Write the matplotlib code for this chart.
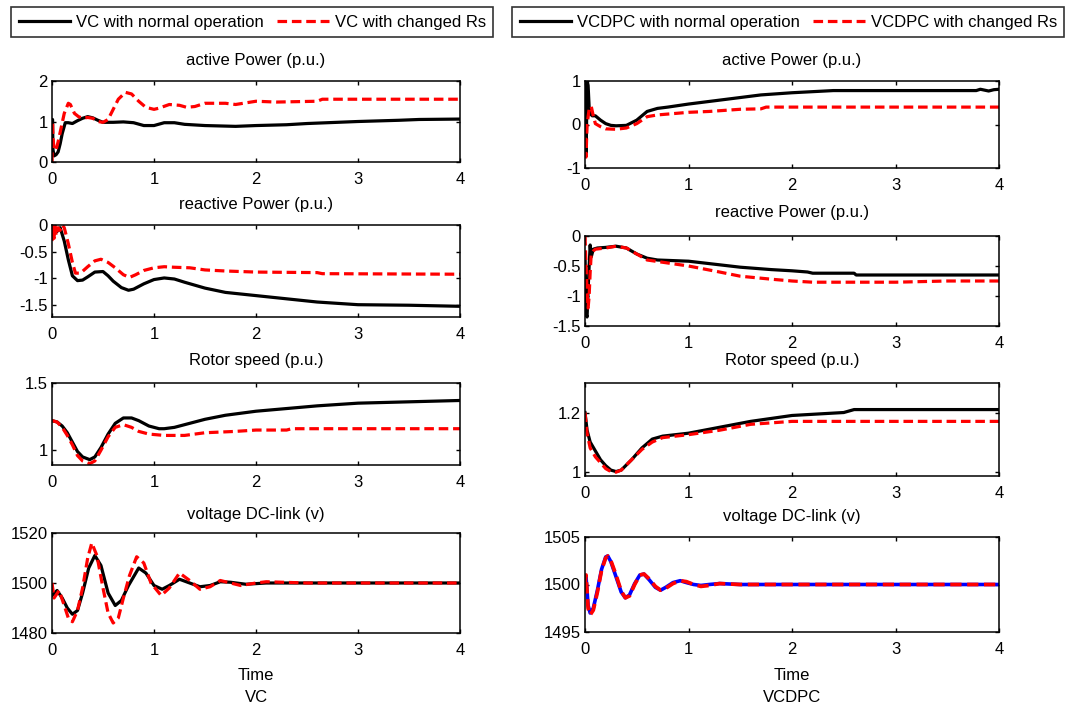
import numpy as np
import matplotlib
matplotlib.use("Agg")
import matplotlib.pyplot as plt

plt.rcParams['font.family'] = ['Liberation Sans', 'DejaVu Sans']
plt.rcParams['font.size'] = 12

# ---------------- data ----------------
# VC : active power
t_ap_vc_n = [0, 0.005, 0.01, 0.02, 0.04, 0.06, 0.08, 0.1, 0.13, 0.16, 0.2, 0.25, 0.3, 0.35, 0.4, 0.45, 0.5,
             0.6, 0.7, 0.8, 0.9, 1.0, 1.1, 1.2, 1.3, 1.5, 1.8, 2.0, 2.3, 2.5, 2.8, 3.0, 3.4, 3.6, 4.0]
ap_vc_n = [0.2, 1.05, 0.3, 0.15, 0.18, 0.25, 0.45, 0.7, 0.97, 0.97, 0.95, 1.02, 1.08, 1.12, 1.09, 1.03, 0.98,
           0.98, 0.99, 0.97, 0.9, 0.9, 0.97, 0.97, 0.93, 0.9, 0.88, 0.9, 0.92, 0.95, 0.98, 1.0, 1.03, 1.05, 1.06]
t_ap_vc_r = [0, 0.005, 0.01, 0.02, 0.04, 0.06, 0.09, 0.12, 0.16, 0.18, 0.22, 0.26, 0.3, 0.35, 0.4, 0.45, 0.5,
             0.55, 0.6, 0.65, 0.72, 0.78, 0.85, 0.92, 1.0, 1.05, 1.15, 1.25, 1.32, 1.4, 1.5, 1.7, 1.8, 2.0,
             2.2, 2.6, 2.65, 4.0]
ap_vc_r = [0, 1.0, 0.6, 0.3, 0.3, 0.5, 0.85, 1.2, 1.45, 1.42, 1.2, 1.12, 1.08, 1.1, 1.08, 1.0, 0.98,
           1.05, 1.3, 1.55, 1.72, 1.68, 1.5, 1.35, 1.3, 1.33, 1.42, 1.4, 1.35, 1.37, 1.45, 1.45, 1.42, 1.5,
           1.48, 1.5, 1.55, 1.55]

# VC : reactive power
t_rp_vc_n = [0, 0.03, 0.06, 0.08, 0.12, 0.16, 0.2, 0.25, 0.3, 0.35, 0.42, 0.5, 0.55, 0.6, 0.68, 0.75, 0.8,
             0.9, 1.0, 1.1, 1.2, 1.3, 1.5, 1.7, 2.0, 2.3, 2.6, 3.0, 3.5, 4.0]
rp_vc_n = [-0.2, -0.15, -0.1, -0.05, -0.3, -0.65, -0.95, -1.04, -1.03, -0.97, -0.88, -0.87, -0.95, -1.05,
           -1.17, -1.22, -1.2, -1.1, -1.02, -0.99, -1.01, -1.07, -1.18, -1.26, -1.32, -1.38, -1.44, -1.49,
           -1.5, -1.52]
t_rp_vc_r = [0, 0.01, 0.02, 0.03, 0.04, 0.06, 0.08, 0.1, 0.12, 0.16, 0.2, 0.23, 0.28, 0.35, 0.42, 0.48,
             0.55, 0.62, 0.7, 0.76, 0.82, 0.9, 1.0, 1.1, 1.2, 1.35, 1.5, 1.7, 2.0, 2.6, 2.65, 4.0]
rp_vc_r = [-0.3, 0.0, -0.25, 0.0, -0.2, -0.05, -0.1, 0.0, -0.05, -0.35, -0.7, -0.9, -0.9, -0.78, -0.67,
           -0.64, -0.7, -0.8, -0.93, -0.98, -0.93, -0.85, -0.8, -0.78, -0.79, -0.8, -0.84, -0.86, -0.88,
           -0.89, -0.91, -0.92]

# VC : rotor speed
t_rs_vc_n = [0, 0.05, 0.1, 0.15, 0.2, 0.25, 0.3, 0.37, 0.42, 0.48, 0.55, 0.62, 0.7, 0.78, 0.85, 0.95,
             1.05, 1.1, 1.2, 1.35, 1.5, 1.7, 2.0, 2.3, 2.6, 3.0, 3.5, 4.0]
rs_vc_n = [1.22, 1.21, 1.18, 1.13, 1.06, 0.99, 0.95, 0.93, 0.95, 1.02, 1.12, 1.2, 1.24, 1.24, 1.22, 1.18,
           1.16, 1.16, 1.17, 1.2, 1.23, 1.26, 1.29, 1.31, 1.33, 1.35, 1.36, 1.37]
t_rs_vc_r = [0, 0.05, 0.1, 0.15, 0.2, 0.25, 0.3, 0.37, 0.42, 0.48, 0.55, 0.62, 0.7, 0.78, 0.85, 0.95,
             1.1, 1.3, 1.5, 1.8, 2.0, 2.3, 2.35, 4.0]
rs_vc_r = [1.22, 1.21, 1.17, 1.11, 1.04, 0.96, 0.92, 0.9, 0.92, 1.0, 1.1, 1.17, 1.19, 1.17, 1.14, 1.12,
           1.11, 1.11, 1.13, 1.14, 1.15, 1.15, 1.16, 1.16]

# VC : DC-link voltage
t_dc_vc_n = [0, 0.05, 0.1, 0.15, 0.2, 0.25, 0.3, 0.36, 0.42, 0.48, 0.55, 0.62, 0.68, 0.75, 0.85, 0.92,
             1.0, 1.08, 1.15, 1.25, 1.35, 1.45, 1.55, 1.65, 1.75, 1.9, 2.1, 2.5, 3.0, 3.5, 4.0]
dc_vc_n = [1495, 1497, 1494, 1490, 1487.5, 1489, 1496, 1506, 1511, 1507, 1496, 1491, 1493, 1499, 1506,
           1504, 1499, 1497.5, 1499, 1501.5, 1500, 1498.5, 1499, 1500.5, 1500.3, 1499.5, 1500, 1500, 1500,
           1500, 1500]
t_dc_vc_r = [0, 0.02, 0.07, 0.12, 0.16, 0.2, 0.25, 0.3, 0.35, 0.39, 0.44, 0.5, 0.55, 0.6, 0.65, 0.7, 0.76,
             0.83, 0.9, 0.97, 1.07, 1.15, 1.25, 1.35, 1.45, 1.55, 1.65, 1.75, 1.85, 2.0, 2.1, 2.5, 4.0]
dc_vc_r = [1500, 1494, 1497, 1491, 1486, 1484.5, 1489, 1498, 1510, 1516, 1511, 1498, 1488, 1484, 1486,
           1494, 1503, 1510.5, 1508, 1500, 1495, 1498, 1504, 1501, 1497.5, 1498.5, 1501, 1500, 1499, 1500,
           1500.5, 1500, 1500]

# VCDPC : active power
t_ap_dpc_n = [0, 0.005, 0.01, 0.015, 0.02, 0.03, 0.04, 0.05, 0.07, 0.1, 0.15, 0.2, 0.25, 0.3, 0.4, 0.5,
              0.6, 0.7, 0.8, 1.0, 1.2, 1.5, 1.7, 2.0, 2.4, 3.0, 3.78, 3.82, 3.9, 3.95, 4.0]
ap_dpc_n = [-0.6, 1.0, -0.7, 0.0, 1.0, 0.9, 0.4, 0.25, 0.2, 0.2, 0.1, 0.02, -0.02, -0.03, -0.02, 0.1,
            0.3, 0.37, 0.4, 0.47, 0.53, 0.62, 0.68, 0.73, 0.78, 0.78, 0.78, 0.81, 0.77, 0.8, 0.81]
t_ap_dpc_r = [0, 0.01, 0.02, 0.04, 0.06, 0.08, 0.1, 0.15, 0.2, 0.3, 0.4, 0.5, 0.6, 0.7, 0.8, 1.0, 1.2,
              1.5, 1.7, 1.75, 4.0]
ap_dpc_r = [-0.3, -0.75, 0.0, 0.35, 0.42, 0.2, 0.02, -0.05, -0.1, -0.11, -0.08, 0.02, 0.18, 0.22, 0.24,
            0.28, 0.3, 0.35, 0.36, 0.4, 0.4]

# VCDPC : reactive power
t_rp_dpc_n = [0, 0.01, 0.02, 0.03, 0.04, 0.05, 0.06, 0.08, 0.12, 0.2, 0.3, 0.4, 0.5, 0.6, 0.7, 1.0, 1.3,
              1.5, 1.8, 2.0, 2.15, 2.2, 2.6, 2.62, 4.0]
rp_dpc_n = [-0.3, -1.3, -1.35, -0.9, -0.5, -0.15, -0.35, -0.22, -0.2, -0.19, -0.17, -0.2, -0.3, -0.37,
            -0.4, -0.42, -0.48, -0.52, -0.56, -0.58, -0.6, -0.62, -0.62, -0.65, -0.65]
t_rp_dpc_r = [0, 0.01, 0.02, 0.03, 0.04, 0.05, 0.06, 0.08, 0.1, 0.2, 0.3, 0.4, 0.5, 0.6, 0.8, 1.0, 1.3,
              1.5, 1.8, 2.0, 2.2, 3.0, 3.5, 4.0]
rp_dpc_r = [0.0, -0.5, -0.9, -1.2, -1.0, -0.6, -0.3, -0.25, -0.22, -0.2, -0.17, -0.2, -0.3, -0.4, -0.45,
            -0.5, -0.6, -0.67, -0.72, -0.75, -0.77, -0.77, -0.75, -0.75]

# VCDPC : rotor speed
t_rs_dpc_n = [0, 0.02, 0.05, 0.1, 0.15, 0.2, 0.25, 0.3, 0.35, 0.45, 0.55, 0.65, 0.75, 1.0, 1.3, 1.6,
              2.0, 2.5, 2.6, 3.0, 4.0]
rs_dpc_n = [1.2, 1.14, 1.1, 1.07, 1.04, 1.02, 1.005, 1.0, 1.005, 1.04, 1.08, 1.11, 1.12, 1.13, 1.15,
            1.17, 1.19, 1.2, 1.21, 1.21, 1.21]
t_rs_dpc_r = [0, 0.02, 0.05, 0.1, 0.15, 0.2, 0.25, 0.3, 0.35, 0.45, 0.55, 0.65, 0.75, 1.0, 1.3, 1.6,
              1.8, 2.0, 4.0]
rs_dpc_r = [1.2, 1.13, 1.08, 1.05, 1.03, 1.01, 1.0, 0.998, 1.005, 1.04, 1.075, 1.1, 1.115, 1.125, 1.14,
            1.16, 1.165, 1.17, 1.17]

# VCDPC : DC-link voltage (blue and red nearly on top of each other)
t_dc_dpc = [0, 0.01, 0.03, 0.05, 0.08, 0.12, 0.16, 0.2, 0.22, 0.25, 0.3, 0.35, 0.39, 0.43, 0.48, 0.53,
            0.57, 0.62, 0.68, 0.73, 0.78, 0.85, 0.92, 0.98, 1.05, 1.12, 1.2, 1.3, 1.5, 2.0, 3.0, 4.0]
dc_dpc_b = [1500, 1500.8, 1497.8, 1497.0, 1497.5, 1499.4, 1501.6, 1502.9, 1503, 1502.4, 1500.8, 1499.2,
            1498.6, 1498.9, 1500.1, 1501, 1501.1, 1500.5, 1499.7, 1499.4, 1499.7, 1500.2, 1500.4, 1500.2,
            1500, 1499.9, 1500, 1500.1, 1500, 1500, 1500, 1500]
dc_dpc_r = [1500, 1501, 1497.5, 1496.8, 1497.3, 1499.2, 1501.5, 1502.8, 1503, 1502.5, 1501, 1499.3,
            1498.6, 1498.8, 1500, 1501, 1501.1, 1500.6, 1499.8, 1499.4, 1499.6, 1500.1, 1500.4, 1500.3,
            1500, 1499.8, 1499.9, 1500.1, 1500, 1500, 1500, 1500]

titles = ['active Power (p.u.)', 'reactive Power (p.u.)', 'Rotor speed (p.u.)', 'voltage DC-link (v)']

# ---------------- layout (pixel positions of the reference) ----------------
W, H = 1067, 711
fig = plt.figure(figsize=(W / 100, H / 100), dpi=100)


def add_ax(x0, x1, top, bottom):
    return fig.add_axes([x0 / W, 1 - bottom / H, (x1 - x0) / W, (bottom - top) / H])


left_rows = [(81, 162), (225, 317), (383, 465), (533, 633)]
right_rows = [(81, 168), (236, 326), (383, 476), (537, 632)]
left_title_y = [60, 205, 360, 514]
right_title_y = [60, 213, 361, 516]

axL = [add_ax(52, 460, a, b) for a, b in left_rows]
axR = [add_ax(585, 999, a, b) for a, b in right_rows]

lw = 2.3
dash = (3, 1.5)

# left column (VC)
axL[0].plot(t_ap_vc_n, ap_vc_n, color='black', lw=lw)
axL[0].plot(t_ap_vc_r, ap_vc_r, color='red', lw=lw, ls='--', dashes=dash)
axL[1].plot(t_rp_vc_n, rp_vc_n, color='black', lw=lw)
axL[1].plot(t_rp_vc_r, rp_vc_r, color='red', lw=lw, ls='--', dashes=dash)
axL[2].plot(t_rs_vc_n, rs_vc_n, color='black', lw=lw)
axL[2].plot(t_rs_vc_r, rs_vc_r, color='red', lw=lw, ls='--', dashes=dash)
axL[3].plot(t_dc_vc_n, dc_vc_n, color='black', lw=lw)
axL[3].plot(t_dc_vc_r, dc_vc_r, color='red', lw=lw, ls='--', dashes=dash)

# right column (VCDPC)
axR[0].plot(t_ap_dpc_n, ap_dpc_n, color='black', lw=lw)
axR[0].plot(t_ap_dpc_r, ap_dpc_r, color='red', lw=lw, ls='--', dashes=dash)
axR[1].plot(t_rp_dpc_n, rp_dpc_n, color='black', lw=lw)
axR[1].plot(t_rp_dpc_r, rp_dpc_r, color='red', lw=lw, ls='--', dashes=dash)
axR[2].plot(t_rs_dpc_n, rs_dpc_n, color='black', lw=lw)
axR[2].plot(t_rs_dpc_r, rs_dpc_r, color='red', lw=lw, ls='--', dashes=dash)
axR[3].plot(t_dc_dpc, dc_dpc_b, color='blue', lw=2.6)
axR[3].plot(t_dc_dpc, dc_dpc_r, color='red', lw=lw + 0.4, ls='--', dashes=dash)

ylims_L = [(0, 2), (-1.72, 0), (0.89, 1.5), (1480, 1520)]
yticks_L = [[0, 1, 2], [-1.5, -1, -0.5, 0], [1, 1.5], [1480, 1500, 1520]]
ylabels_L = [['0', '1', '2'], ['-1.5', '-1', '-0.5', '0'], ['1', '1.5'], ['1480', '1500', '1520']]
ylims_R = [(-1, 1), (-1.5, 0), (0.985, 1.3), (1495, 1505)]
yticks_R = [[-1, 0, 1], [-1.5, -1, -0.5, 0], [1, 1.2], [1495, 1500, 1505]]
ylabels_R = [['-1', '0', '1'], ['-1.5', '-1', '-0.5', '0'], ['1', '1.2'], ['1495', '1500', '1505']]

for axes, lims, ticks, labs in [(axL, ylims_L, yticks_L, ylabels_L), (axR, ylims_R, yticks_R, ylabels_R)]:
    for ax, yl, yt, ylb in zip(axes, lims, ticks, labs):
        ax.set_xlim(0, 4)
        ax.set_ylim(*yl)
        ax.set_xticks([0, 1, 2, 3, 4])
        ax.set_xticklabels(['0', '1', '2', '3', '4'])
        ax.set_yticks(yt)
        ax.set_yticklabels(ylb)
        ax.tick_params(direction='in', top=True, right=True, length=3, width=1, labelsize=12)
        ax.tick_params(axis='x', pad=7)
        ax.tick_params(axis='y', pad=3)
        for s in ax.spines.values():
            s.set_linewidth(1.1)

for ax, ty, t in zip(axL, left_title_y, titles):
    fig.text(256 / W, 1 - ty / H, t, ha='center', va='center', fontsize=12)
for ax, ty, t in zip(axR, right_title_y, titles):
    fig.text(792 / W, 1 - ty / H, t, ha='center', va='center', fontsize=12)

fig.text(256 / W, 1 - 675 / H, 'Time', ha='center', va='center', fontsize=12)
fig.text(256 / W, 1 - 698 / H, 'VC', ha='center', va='center', fontsize=12)
fig.text(792 / W, 1 - 675 / H, 'Time', ha='center', va='center', fontsize=12)
fig.text(792 / W, 1 - 698 / H, 'VCDPC', ha='center', va='center', fontsize=12)

# legends on top
leg_kw = dict(loc='upper left', ncol=2, frameon=True, fancybox=False, edgecolor='black',
              handlelength=3.1, handletextpad=0.35, columnspacing=0.8, borderpad=0.45,
              borderaxespad=0, fontsize=12)
h1, = axL[0].plot([], [], color='black', lw=lw)
h2, = axL[0].plot([], [], color='red', lw=lw, ls='--', dashes=dash)
leg1 = fig.legend([h1, h2], ['VC with normal operation', 'VC with changed Rs'],
                  bbox_to_anchor=(11 / W, 1 - 7 / H), **leg_kw)
leg1.get_frame().set_linewidth(1.2)
leg2 = fig.legend([h1, h2], ['VCDPC with normal operation', 'VCDPC with changed Rs'],
                  bbox_to_anchor=(512 / W, 1 - 7 / H), **leg_kw)
leg2.get_frame().set_linewidth(1.2)

fig.savefig('out.png', dpi=100)
